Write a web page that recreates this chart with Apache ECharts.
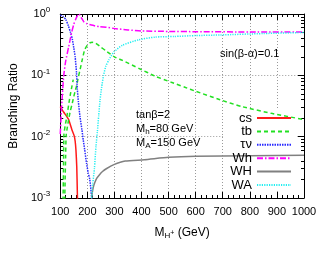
<!DOCTYPE html>
<html><head><meta charset="utf-8">
<script src="https://cdn.jsdelivr.net/npm/echarts@6/dist/echarts.min.js"></script>
<style>html,body{margin:0;padding:0;background:#fff}#c{width:325px;height:260px}</style>
</head><body><div id="c"></div>
<script>
// ---- data ----
const xTickLabels = [100,200,300,400,500,600,700,800,900,1000];
const yDecades = [0.001, 0.01, 0.1, 1];
const seriesNames = ['cs','tb','τν','Wh','WH','WA'];

const cs = [[100,0.031],[113,0.025],[122,0.022],[131,0.019],[143,0.013],[151,0.0105],[155,0.0085],[158,0.006],[161,0.0032],[163,0.0013],[164.5,0.0006]];
const tbLow = [[110,0.0007],[112,0.003],[113.5,0.0106],[118,0.015],[125,0.022],[131,0.033],[137,0.048],[143,0.066],[148,0.085]];
const tbMain = [[116,0.0007],[118,0.002],[120,0.005],[122,0.0106],[130,0.018],[137,0.026],[143,0.033],[150,0.045],[155,0.055],[161,0.069],[167,0.095],[173,0.122],[180,0.17],[190,0.26],[200,0.31],[210,0.34],[218,0.345],[230,0.335],[245,0.3],[269,0.25],[300,0.2],[330,0.175],[390,0.13],[450,0.097],[510,0.077],[560,0.064],[600,0.055],[690,0.04],[770,0.031],[880,0.024],[1000,0.019]];
const tauNu = [[100,0.96],[110,0.92],[120,0.82],[130,0.64],[138,0.5],[145,0.38],[150,0.28],[155,0.2],[160,0.11],[163,0.06],[167,0.037],[173,0.021],[180,0.013],[185,0.0088],[190,0.0062],[197,0.0037],[203,0.0026],[209,0.002],[213,0.0014],[216,0.001],[218,0.0007]];
const Wh = [[100,0.011],[104,0.025],[108,0.05],[113,0.1],[120,0.17],[131,0.29],[143,0.52],[150,0.68],[157,0.82],[163,0.93],[168,1.0],[172,0.97],[179,0.85],[187,0.75],[197,0.7],[215,0.66],[245,0.62],[270,0.61],[300,0.58],[350,0.55],[400,0.53],[500,0.52],[600,0.515],[800,0.51],[1000,0.51]];
const WH = [[214.5,0.0007],[216,0.001],[218,0.0012],[222,0.0015],[228,0.0018],[235,0.0021],[245,0.0024],[256,0.0027],[270,0.003],[298,0.0035],[340,0.004],[410,0.0042],[500,0.0046],[600,0.0048],[800,0.0049],[1000,0.005]];
const WA = [[214,0.0007],[215,0.0009],[220,0.0017],[226,0.003],[232,0.007],[237,0.012],[242,0.022],[247,0.04],[253,0.065],[260,0.1],[268,0.14],[280,0.18],[298,0.24],[330,0.31],[390,0.38],[450,0.42],[520,0.43],[600,0.445],[690,0.455],[850,0.48],[1000,0.5]];

// ---- chart ----
const FONT = 'Liberation Sans, Arial, sans-serif';
const yMinor = [];
for (let k = -3; k < 0; k++) for (let m = 2; m <= 9; m++) yMinor.push(m * Math.pow(10, k));

const black = '#000';
const chart = echarts.init(document.getElementById('c'), null, {renderer: 'canvas'});

function line(name, data, color, type, w) {
  return {
    name, type: 'line', data, xAxisIndex: 0, yAxisIndex: 0,
    symbol: 'none', showSymbol: false, smooth: 0.2, clip: true,
    lineStyle: {color, width: w || 1.5, type: type || 'solid'},
    itemStyle: {color}, emphasis: {disabled: true}, animation: false
  };
}

const yLabelRich = {
  b: {fontSize: 11, fontFamily: FONT, color: black, lineHeight: 16},
  s: {fontSize: 8, fontFamily: FONT, color: black, lineHeight: 8, verticalAlign: 'top'}
};

const xBase = {
  type: 'value', min: xTickLabels[0], max: xTickLabels[xTickLabels.length - 1], interval: 100,
  axisLine: {show: true, onZero: false, lineStyle: {color: black, width: 1}},
  axisTick: {show: true, inside: true, length: 6, lineStyle: {color: black}},
  minorTick: {show: true, splitNumber: 5, length: 3, lineStyle: {color: black}},
};

const option = {
  animation: false,
  backgroundColor: '#fff',
  grid: {left: 53, right: 21, top: 14, bottom: 62, containLabel: false},
  xAxis: [
    Object.assign({}, xBase, {
      position: 'bottom',
      axisLabel: {show: true, margin: 8, fontSize: 11, fontFamily: FONT, color: black,
        showMinLabel: true, showMaxLabel: true, formatter: v => String(v)},
      splitLine: {show: true, lineStyle: {color: '#999', type: [1, 2], width: 1}},
      name: '{a|M}{h|H}{p|+}{a| (GeV)}', nameLocation: 'middle', nameGap: 28,
      nameTextStyle: {rich: {
        a: {fontSize: 12, fontFamily: FONT, color: black, lineHeight: 14},
        h: {fontSize: 8, fontFamily: FONT, color: black, lineHeight: 8, verticalAlign: 'bottom'},
        p: {fontSize: 7, fontFamily: FONT, color: black, lineHeight: 7, verticalAlign: 'middle'}
      }}
    }),
    Object.assign({}, xBase, {
      position: 'top', axisLabel: {show: false}, splitLine: {show: false}
    })
  ],
  yAxis: [
    {
      type: 'log', logBase: 10, min: yDecades[0], max: yDecades[yDecades.length - 1], position: 'left',
      axisLine: {show: true, onZero: false, lineStyle: {color: black}},
      axisTick: {show: true, inside: true, length: 6, lineStyle: {color: black}},
      axisLabel: {show: true, margin: 10, showMinLabel: true, showMaxLabel: true,
        formatter: v => '{b|10}{s|' + Math.round(Math.log10(v)) + '}', rich: yLabelRich},
      splitLine: {show: true, lineStyle: {color: '#999', type: [1, 2], width: 1}},
      name: 'Branching Ratio', nameLocation: 'middle', nameGap: 34,
      nameTextStyle: {fontSize: 12, fontFamily: FONT, color: black}
    },
    {
      type: 'log', logBase: 10, min: 0.001, max: 1, position: 'left',
      axisLine: {show: false}, axisLabel: {show: false}, splitLine: {show: false},
      axisTick: {show: true, inside: true, length: 3, customValues: yMinor, lineStyle: {color: black}}
    },
    {
      type: 'log', logBase: 10, min: 0.001, max: 1, position: 'right',
      axisLine: {show: true, onZero: false, lineStyle: {color: black}},
      axisLabel: {show: false}, splitLine: {show: false},
      axisTick: {show: true, inside: true, length: 6, lineStyle: {color: black}}
    },
    {
      type: 'log', logBase: 10, min: 0.001, max: 1, position: 'right',
      axisLine: {show: false}, axisLabel: {show: false}, splitLine: {show: false},
      axisTick: {show: true, inside: true, length: 3, customValues: yMinor, lineStyle: {color: black}}
    }
  ],
  legend: {
    orient: 'vertical', right: 33, top: 111.3, align: 'right', padding: 0, itemGap: 0,
    itemWidth: 34, itemHeight: 10, selectedMode: false,
    itemStyle: {color: 'rgba(0,0,0,0)', borderColor: 'rgba(0,0,0,0)', borderWidth: 0, opacity: 0},
    textStyle: {fontSize: 13, fontFamily: FONT, color: black, lineHeight: 13.4},
    data: seriesNames
  },
  graphic: [
    {type: 'rect', z: 1, silent: true, shape: {x: 223, y: 110, width: 74, height: 81}, style: {fill: '#fff'}},
    {type: 'text', z: 10, x: 220, y: 54, style: {text: 'sin(β-α)=0.1', font: '11px ' + FONT, fill: black, verticalAlign: 'middle', align: 'left'}},
    {type: 'text', z: 10, x: 136, y: 115, style: {text: 'tanβ=2', font: '11px ' + FONT, fill: black, verticalAlign: 'middle', align: 'left'}},
    {type: 'text', z: 10, x: 136, y: 129, style: {text: '{a|M}{s|h}{a|=80 GeV}', verticalAlign: 'middle', align: 'left',
      rich: {a: {fontSize: 11, fontFamily: FONT, fill: black, lineHeight: 13}, s: {fontSize: 8, fontFamily: FONT, fill: black, lineHeight: 8, verticalAlign: 'bottom'}}}},
    {type: 'text', z: 10, x: 136, y: 143, style: {text: '{a|M}{s|A}{a|=150 GeV}', verticalAlign: 'middle', align: 'left',
      rich: {a: {fontSize: 11, fontFamily: FONT, fill: black, lineHeight: 13}, s: {fontSize: 8, fontFamily: FONT, fill: black, lineHeight: 8, verticalAlign: 'bottom'}}}}
  ],
  series: [
    line('cs', cs, '#ff1a1a', 'solid'),
    line('tb', tbMain, '#22e022', [4, 3]),
    line('tb', tbLow, '#22e022', [4, 3]),
    line('τν', tauNu, '#2a2aff', [1.5, 1]),
    line('Wh', Wh, '#ff00ff', [6, 2, 1.5, 2]),
    line('WH', WH, '#808080', 'solid'),
    line('WA', WA, '#22eef0', [1.2, 1.2])
  ]
};
chart.setOption(option);
</script>
</body></html>
